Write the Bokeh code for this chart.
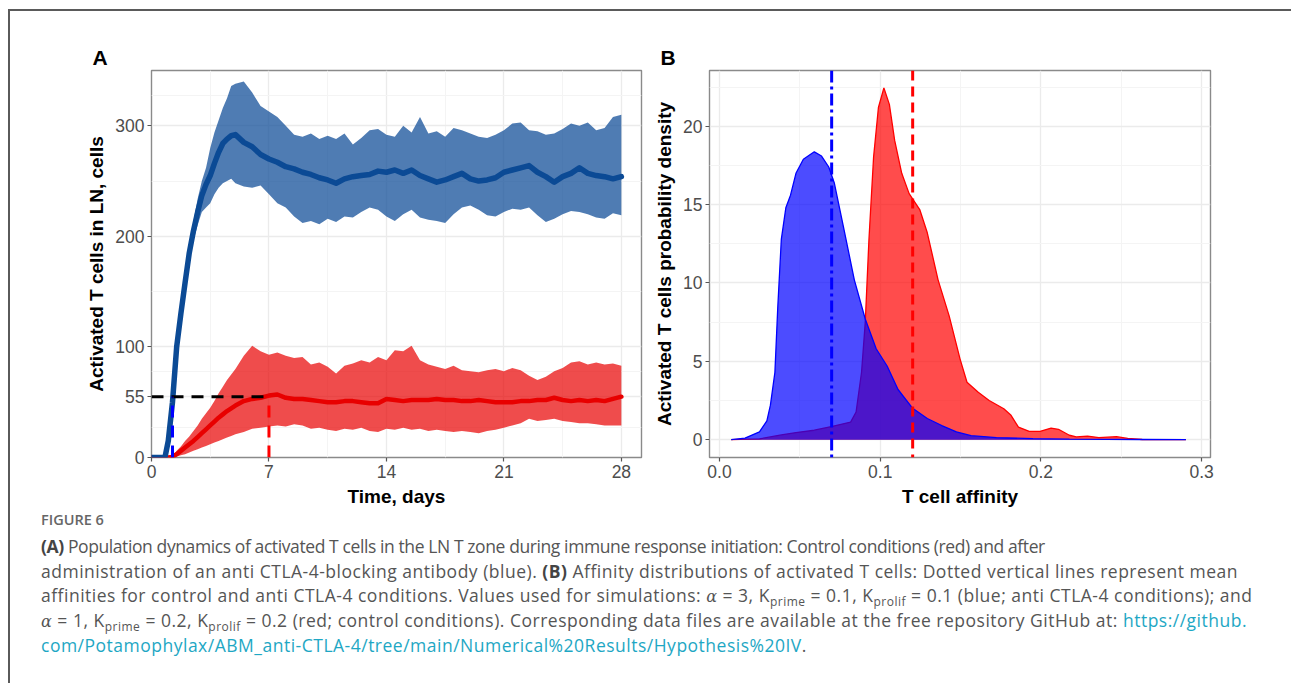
from bokeh.plotting import figure
from bokeh.models import FixedTicker, NumeralTickFormatter, Span, Div
from bokeh.layouts import row, column
from bokeh.embed import file_html
from bokeh.resources import INLINE

FONT = "Liberation Sans"

# ---------------- Panel A: population dynamics ----------------
time_days = [0, 0.5, 0.8, 1.0, 1.25, 1.5, 1.75, 2.0, 2.25, 2.5, 2.75, 3.0, 3.25, 3.5, 3.75,
             4.0, 4.25, 4.5, 4.75, 5.0,
             5.5, 6.0, 6.5, 7.0, 7.5, 8.0, 8.5, 9.0, 9.5, 10.0,
             10.5, 11.0, 11.5, 12.0, 12.5, 13.0, 13.5, 14.0, 14.5, 15.0,
             15.5, 16.0, 16.5, 17.0, 17.5, 18.0, 18.5, 19.0, 19.5, 20.0,
             20.5, 21.0, 21.5, 22.0, 22.5, 23.0, 23.5, 24.0, 24.5, 25.0,
             25.5, 26.0, 26.5, 27.0, 27.5, 28.0]

anti_ctla4_mean = [0, 0, 0, 15, 50, 100, 130, 158, 185, 205, 222, 237, 247, 255, 266,
                   276, 284, 288, 291, 292,
                   285, 281, 274, 270, 267, 263, 261, 258, 256, 253,
                   251, 248, 252, 254, 255, 256, 259, 258, 260, 257,
                   260, 255, 252, 249, 251, 254, 257, 252, 250, 251,
                   253, 258, 260, 262, 264, 258, 254, 249, 254, 257,
                   262, 257, 255, 254, 252, 254]
anti_ctla4_low = [0, 0, 0, 13, 47, 96, 126, 153, 179, 196, 210, 222, 226, 230, 238,
                  244, 248, 250, 252, 248,
                  245, 244, 246, 238, 230, 226, 218, 212, 214, 211,
                  216, 213, 218, 217, 222, 226, 224, 218, 214, 220,
                  224, 217, 215, 214, 212, 220, 226, 228, 224, 219,
                  218, 222, 225, 224, 226, 219, 213, 216, 220, 223,
                  222, 220, 217, 216, 221, 219]
anti_ctla4_high = [0, 0, 0, 17, 53, 104, 134, 163, 191, 214, 234, 250, 262, 280, 294,
                   305, 316, 325, 336, 338,
                   340, 330, 318, 313, 308, 300, 292, 290, 293, 288,
                   291, 288, 293, 283, 289, 296, 297, 292, 290, 300,
                   294, 308, 293, 295, 290, 298, 296, 293, 290, 289,
                   292, 296, 302, 303, 296, 295, 292, 293, 297, 302,
                   300, 303, 296, 298, 308, 310]

control_mean = [0, 0, 0, 0, 0.5, 3, 6, 9, 12, 15, 18.5, 22, 25.5, 29, 32.5,
                36, 39, 42, 44.5, 47,
                51, 53, 54, 56, 57, 54, 53, 53, 52, 51,
                50, 50, 51, 51, 50, 49, 49, 53, 52, 51,
                52, 52, 52, 53, 52, 52, 51, 51, 52, 51,
                50, 50, 50, 51, 51, 52, 52, 54, 52, 51,
                52, 51, 52, 51, 53, 55]
control_low = [0, 0, 0, 0, 0, 1, 2, 3, 4.5, 6, 7.5, 9, 10.5, 12, 13.5,
               15, 16.5, 18, 19.5, 21,
               23, 26, 27, 28, 29, 28, 30, 29, 26, 27,
               25, 24, 26, 25, 27, 24, 23, 26, 25, 27,
               25, 26, 24, 25, 24, 23, 24, 23, 22, 24,
               25, 27, 29, 31, 35, 33, 34, 35, 33, 32,
               31, 31, 30, 29, 29, 29]
control_high = [0, 0, 0, 0, 1, 6, 10, 15, 19, 24, 29, 35, 40, 45, 51,
                58, 64, 70, 75, 80,
                92, 101, 96, 93, 95, 92, 90, 91, 84, 86,
                82, 76, 83, 85, 88, 86, 91, 88, 97, 96,
                101, 88, 84, 82, 80, 83, 79, 78, 77, 79,
                80, 78, 81, 79, 74, 70, 73, 78, 81, 86,
                87, 84, 86, 84, 85, 83]

level_cells = 55          # threshold level (black dashed)
t_reach_anti = 1.25       # day the anti CTLA-4 curve reaches the level
t_reach_ctrl = 7.0        # day the control curve reaches the level

a_xticks = [0, 7, 14, 21, 28]
a_xminor = [3.5, 10.5, 17.5, 24.5]
a_yticks = [0, 55, 100, 200, 300]
a_yminor = [27.5, 77.5, 150, 250, 327.5]

# ---------------- Panel B: affinity densities ----------------
aff_anti = [0.0073, 0.0159, 0.0249, 0.0295, 0.0317, 0.0345, 0.0363, 0.0385, 0.0413, 0.0442,
            0.0476, 0.0522, 0.059, 0.0635, 0.068, 0.0714, 0.0771, 0.0839, 0.0907, 0.0975,
            0.1043, 0.1111, 0.1202, 0.1293, 0.1383, 0.1474, 0.1565, 0.1723, 0.195, 0.2177,
            0.2404, 0.263, 0.2902]
dens_anti = [0, 0.1, 0.5, 1.2, 2.2, 4.3, 8.5, 12.8, 14.8, 15.6,
             17.0, 17.9, 18.37, 18.1, 17.4, 16.4, 13.6, 10.2, 7.7, 5.8,
             4.7, 3.2, 2.0, 1.35, 0.9, 0.5, 0.25, 0.13, 0.06, 0.03,
             0.02, 0.01, 0.0]

aff_ctrl = [0.0073, 0.0249, 0.0385, 0.0476, 0.059, 0.0703, 0.0816, 0.085, 0.0884, 0.0907,
            0.093, 0.0959, 0.0989, 0.1023, 0.1057, 0.109, 0.1134, 0.118, 0.1247, 0.1293,
            0.136, 0.1429, 0.1497, 0.154, 0.161, 0.1678, 0.1769, 0.1814, 0.186, 0.1927,
            0.1995, 0.2063, 0.2109, 0.2177, 0.222, 0.229, 0.236, 0.247, 0.254, 0.263, 0.2902]
dens_ctrl = [0, 0.05, 0.3, 0.45, 0.6, 0.85, 1.12, 1.76, 4.3, 7.47,
             12.76, 18.05, 21.2, 22.45, 21.4, 19.1, 17.0, 15.7, 14.66, 13.2,
             10.2, 7.9, 5.14, 3.66, 3.03, 2.5, 1.97, 1.55, 0.8, 0.53,
             0.53, 0.74, 0.66, 0.28, 0.17, 0.23, 0.13, 0.19, 0.08, 0.01, 0.0]

mean_aff_anti = 0.0698
mean_aff_ctrl = 0.1202

b_xticks = [0.0, 0.1, 0.2, 0.3]
b_xminor = [0.05, 0.15, 0.25]
b_yticks = [0, 5, 10, 15, 20]
b_yminor = [2.5, 7.5, 12.5, 17.5, 22.5]

BLUE_DARK = "#0b4a95"
RED_DARK = "#e80000"


def style(p, xt, xm, yt, ym, panel_letter, letter_offset):
    p.background_fill_color = "white"
    p.border_fill_color = "white"
    p.outline_line_color = "#8a8a8a"
    p.outline_line_width = 1.4
    p.xaxis.ticker = FixedTicker(ticks=xt, minor_ticks=xm)
    p.yaxis.ticker = FixedTicker(ticks=yt, minor_ticks=ym)
    for ax in (p.xaxis[0], p.yaxis[0]):
        ax.axis_line_color = None
        ax.major_tick_in = 0
        ax.major_tick_out = 4
        ax.major_tick_line_color = "#555555"
        ax.major_tick_line_width = 1.2
        ax.minor_tick_line_color = None
        ax.major_label_text_font = FONT
        ax.major_label_text_font_size = "17.5px"
        ax.major_label_text_color = "#4d4d4d"
        ax.major_label_standoff = 3
        ax.axis_label_text_font = FONT
        ax.axis_label_text_font_size = "19px"
        ax.axis_label_text_font_style = "bold"
        ax.axis_label_text_color = "black"
        ax.axis_label_standoff = 5
    for g in (p.xgrid[0], p.ygrid[0]):
        g.grid_line_color = "#ebebeb"
        g.grid_line_width = 1.3
        g.minor_grid_line_color = "#f4f4f4"
        g.minor_grid_line_width = 1.0
    p.title.text = panel_letter
    p.title.align = "left"
    p.title.offset = letter_offset
    p.title.standoff = 4
    p.title.text_font = FONT
    p.title.text_font_size = "21px"
    p.title.text_font_style = "bold"
    p.title.text_color = "black"


# ---------- figure A ----------
pa = figure(width=640, height=498, x_range=(0, 29.2), y_range=(0, 350),
            min_border_left=141, min_border_right=9, min_border_top=59, min_border_bottom=50,
            output_backend="svg", toolbar_location=None)
style(pa, a_xticks, a_xminor, a_yticks, a_yminor, "A", -59)
pa.xaxis.axis_label = "Time, days"
pa.yaxis.axis_label = "Activated T cells in LN, cells"

pa.varea(x=time_days, y1=control_low, y2=control_high, fill_color=RED_DARK, fill_alpha=0.7)
pa.varea(x=time_days, y1=anti_ctla4_low, y2=anti_ctla4_high, fill_color=BLUE_DARK, fill_alpha=0.72)
pa.line(x=time_days, y=control_mean, line_color=RED_DARK, line_width=4.5,
        line_cap="round", line_join="round")
pa.line(x=time_days, y=anti_ctla4_mean, line_color=BLUE_DARK, line_width=5.5,
        line_cap="round", line_join="round")
pa.segment(x0=[0], y0=[level_cells], x1=[t_reach_ctrl], y1=[level_cells],
           line_color="black", line_width=3, line_dash="12 8")
pa.segment(x0=[t_reach_ctrl], y0=[0], x1=[t_reach_ctrl], y1=[level_cells],
           line_color="#ff0000", line_width=3, line_dash="12 8")
pa.segment(x0=[t_reach_anti], y0=[0], x1=[t_reach_anti], y1=[level_cells],
           line_color="#0000ff", line_width=3, line_dash="12 8")

# ---------- figure B ----------
pb = figure(width=580, height=498, x_range=(-0.0062, 0.3055), y_range=(-1.14, 23.56),
            min_border_left=59, min_border_right=20, min_border_top=59, min_border_bottom=50,
            output_backend="svg", toolbar_location=None)
style(pb, b_xticks, b_xminor, b_yticks, b_yminor, "B", -49)
pb.xaxis.formatter = NumeralTickFormatter(format="0.0")
pb.xaxis.axis_label = "T cell affinity"
pb.yaxis.axis_label = "Activated T cells probability density"

pb.varea(x=aff_ctrl, y1=0, y2=dens_ctrl, fill_color="#ff0000", fill_alpha=0.7)
pb.line(x=aff_ctrl, y=dens_ctrl, line_color="#ff0000", line_width=1.3)
pb.varea(x=aff_anti, y1=0, y2=dens_anti, fill_color="#0000ff", fill_alpha=0.7)
pb.line(x=aff_anti, y=dens_anti, line_color="#0000ff", line_width=1.3)
pb.add_layout(Span(location=mean_aff_anti, dimension="height", line_color="#0000ff",
                   line_width=3, line_dash="12 4 3 4"))
pb.add_layout(Span(location=mean_aff_ctrl, dimension="height", line_color="#ff0000",
                   line_width=3, line_dash="10 6"))

# ---------- caption ----------
sub = "font-size:12px; vertical-align:-4px; line-height:0;"
alpha = "<i style='font-family:\"DejaVu Serif\"; font-size:16px; line-height:0;'>&alpha;</i>"
link = "color:#1ea7c4; text-decoration:none;"
bold = "font-weight:700; color:#444444;"
caption_html = (
    "<div style=\"font-family:'Open Sans'; color:#555555; font-size:17.5px; line-height:24.7px; "
    "letter-spacing:0.5px; white-space:nowrap; padding-left:26px; margin-top:-4px;\">"
    "<div style=\"font-size:14.5px; font-weight:600; color:#666666; line-height:20px; "
    "letter-spacing:0; margin-bottom:4px;\">FIGURE 6</div>"
    "<span style='letter-spacing:-0.4px;'><b style='" + bold + "'>(A)</b> Population dynamics of activated "
    "T cells in the LN T zone during immune response initiation: Control conditions (red) and after</span><br>"
    "administration of an anti CTLA-4-blocking antibody (blue). <b style='" + bold + "'>(B)</b> Affinity "
    "distributions of activated T cells: Dotted vertical lines represent mean<br>"
    "affinities for control and anti CTLA-4 conditions. Values used for simulations: "
    + alpha + " = 3, K<sub style='" + sub + "'>prime</sub> = 0.1, K<sub style='" + sub +
    "'>prolif</sub> = 0.1 (blue; anti CTLA-4 conditions); and<br>"
    + alpha + " = 1, K<sub style='" + sub + "'>prime</sub> = 0.2, K<sub style='" + sub +
    "'>prolif</sub> = 0.2 (red; control conditions). Corresponding data files are available "
    "at the free repository GitHub at: <span style='" + link + "'>https://github.</span><br>"
    "<span style='" + link + "'>com/Potamophylax/ABM_anti-CTLA-4/tree/main/Numerical%20Results/"
    "Hypothesis%20IV</span>."
    "</div>"
)
caption = Div(text=caption_html, width=1270, height=164)

layout = column(row(pa, pb), caption, width=1283,
                styles={"margin-left": "8px", "margin-top": "9px", "box-sizing": "border-box",
                        "border-left": "2px solid #5a5a5a", "border-top": "2px solid #5a5a5a"})

open("out.html", "w").write(file_html(layout, INLINE))
